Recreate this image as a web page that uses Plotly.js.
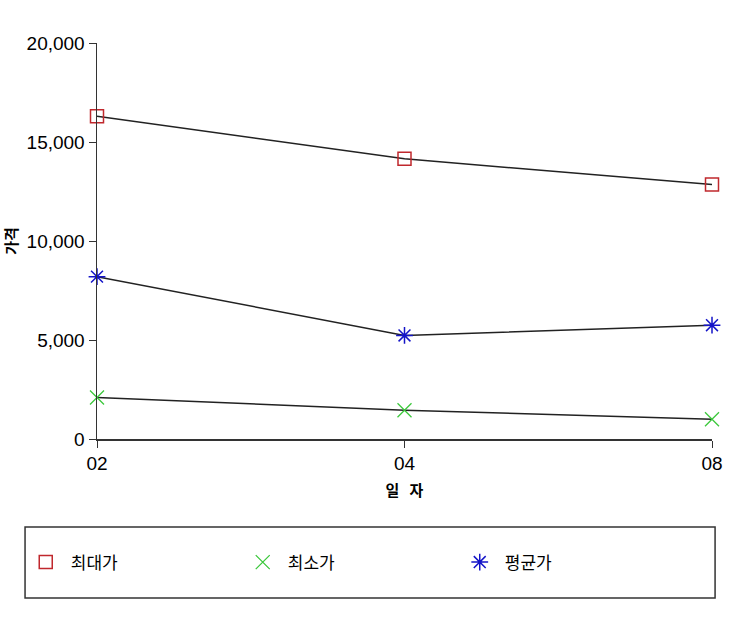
<!DOCTYPE html>
<html>
<head>
<meta charset="utf-8">
<script src="https://cdn.plot.ly/plotly-3.0.1.min.js"></script>
<style>html,body{margin:0;padding:0;background:#fff;}#chart{width:730px;height:630px;}</style>
</head>
<body>
<div id="chart"></div>
<script>
var categories = ['02', '04', '08'];
var maxPrice = [16300, 14150, 12850];
var minPrice = [2100, 1450, 1000];
var avgPrice = [8200, 5230, 5750];
var seriesNames = ['최대가', '최소가', '평균가'];
var yTickVals = [0, 5000, 10000, 15000, 20000];
var yTickText = ['0', '5,000', '10,000', '15,000', '20,000'];

var xIdx = categories.map(function (c, i) { return i; });
var series = [maxPrice, minPrice, avgPrice];
var markerStyles = [
  {symbol: 'square-open', color: '#c0282d', size: 13, line: {width: 1.5, color: '#c0282d'}},
  {symbol: 'x-thin-open', color: '#3cc83c', size: 14, line: {width: 1.3, color: '#3cc83c'}},
  {symbol: 'asterisk-open', color: '#1414c8', size: 14, line: {width: 1.5, color: '#1414c8'}}
];

var traces = [];
series.forEach(function (s) {
  traces.push({x: xIdx, y: s, mode: 'lines', line: {color: '#222', width: 1.5},
    showlegend: false, hoverinfo: 'skip', cliponaxis: false});
});
series.forEach(function (s, i) {
  traces.push({x: xIdx, y: s, mode: 'markers', name: seriesNames[i],
    marker: markerStyles[i], cliponaxis: false});
});

var tickFont = {family: 'Liberation Sans, Arial, sans-serif', size: 19, color: '#000'};

var layout = {
  width: 730, height: 630,
  margin: {l: 97, r: 18, t: 43, b: 191},
  paper_bgcolor: '#fff', plot_bgcolor: '#fff',
  showlegend: true,
  xaxis: {
    range: [0, 2], tickvals: xIdx, ticktext: categories,
    showgrid: false, zeroline: false, showline: true, linecolor: '#333', linewidth: 1.5,
    ticks: 'outside', ticklen: 7, tickcolor: '#333', tickfont: tickFont,
    title: {text: '일   자', font: {family: 'Noto Sans CJK KR, sans-serif', size: 15, color: '#000', weight: 'bold'}, standoff: 12}
  },
  yaxis: {
    range: [0, 20000], tickvals: yTickVals, ticktext: yTickText,
    showgrid: false, zeroline: false, showline: true, linecolor: '#333', linewidth: 1.5,
    ticks: 'outside', ticklen: 7, tickcolor: '#333', tickfont: tickFont,
    title: {text: '가격', font: {family: 'Noto Sans CJK KR, sans-serif', size: 15, color: '#000', weight: 'bold'}, standoff: 12}
  },
  legend: {
    orientation: 'h', x: -0.124, xanchor: 'left', y: -0.312, yanchor: 'middle',
    font: {family: 'Noto Sans CJK KR, sans-serif', size: 17, color: '#000'},
    itemwidth: 40,
    entrywidth: 162, entrywidthmode: 'pixels', bgcolor: 'rgba(0,0,0,0)', borderwidth: 0
  },
  shapes: [{
    type: 'rect', xref: 'paper', yref: 'paper',
    x0: -0.117, x1: 1.005, y0: -0.222, y1: -0.4015,
    line: {color: '#333', width: 1.5}, fillcolor: 'rgba(0,0,0,0)'
  }]
};

Plotly.newPlot('chart', traces, layout, {displayModeBar: false, staticPlot: true});
</script>
</body>
</html>
